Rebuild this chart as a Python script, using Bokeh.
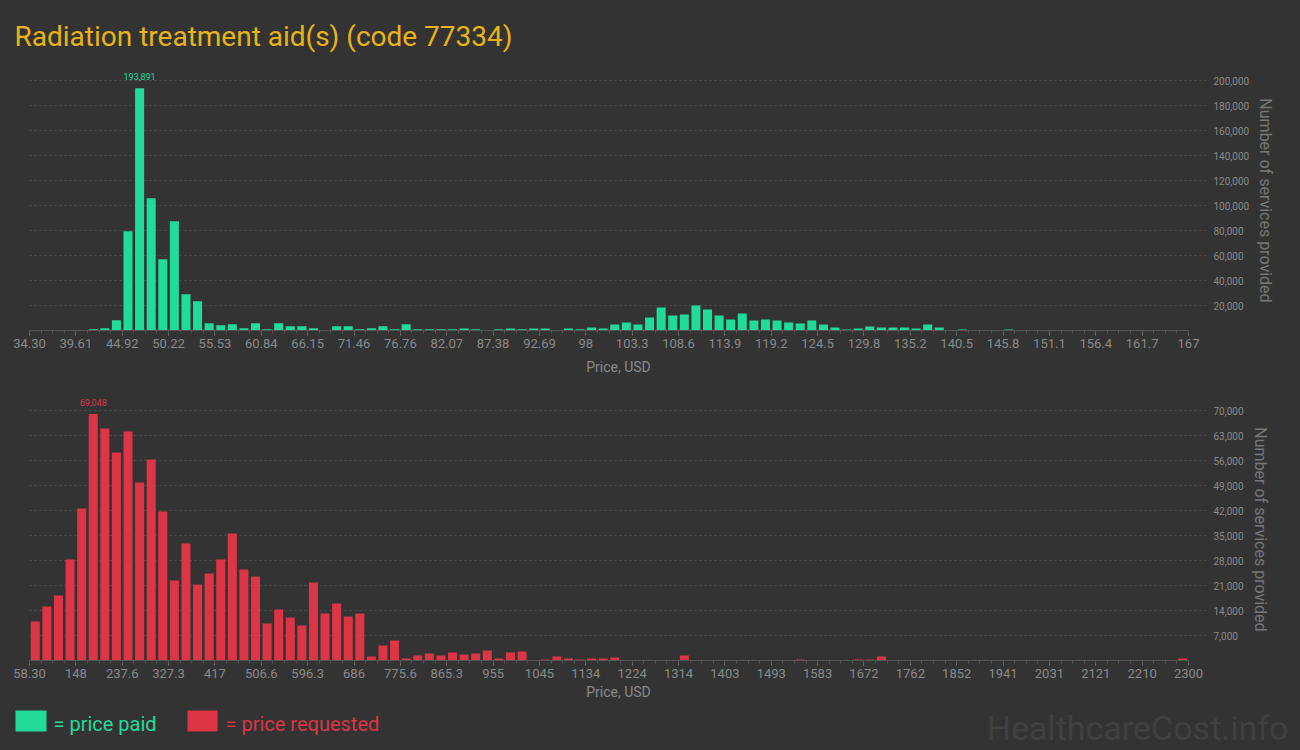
import re
import numpy as np
from bokeh.plotting import figure
from bokeh.layouts import column
from bokeh.models import (ColumnDataSource, FixedTicker, Label,
                          NumeralTickFormatter, Range1d)
from bokeh.core.properties import value
from bokeh.embed import file_html
from bokeh.resources import INLINE

# ---------------- data ----------------
title_text = "Radiation treatment aid(s) (code 77334)"

paid_lo, paid_hi = 34.30, 167.05
paid_counts = [
    300, 0, 0, 0, 0, 1000, 1900, 8300, 79500, 193891,
    105900, 57100, 87500, 29100, 23500, 5900, 4300, 5100, 1900, 5900,
    1100, 5900, 3500, 3500, 1900, 300, 3500, 3500, 1100, 1900,
    3500, 1100, 5100, 1100, 1000, 1000, 1000, 1600, 1000, 400,
    1000, 1600, 1000, 1600, 1600, 300, 1600, 1000, 2400, 1600,
    4800, 6400, 4800, 10400, 18400, 12000, 12800, 20000, 16800, 12000,
    8800, 13600, 8000, 8800, 8000, 6400, 5600, 8000, 4800, 2400,
    800, 1600, 3200, 2400, 2400, 2400, 1600, 4800, 2400, 0,
    800, 300, 300, 0, 800, 300, 300, 300, 0, 0,
    0, 0, 0, 0, 0, 0, 0, 0, 0, 300,
]
paid_tick_labels = ["34.30", "39.61", "44.92", "50.22", "55.53", "60.84", "66.15",
                    "71.46", "76.76", "82.07", "87.38", "92.69", "98", "103.3",
                    "108.6", "113.9", "119.2", "124.5", "129.8", "135.2", "140.5",
                    "145.8", "151.1", "156.4", "161.7", "167"]
paid_y_ticks = [20000, 40000, 60000, 80000, 100000, 120000, 140000, 160000, 180000, 200000]

req_lo, req_hi = 58.30, 2300.0
req_counts = [
    10920, 15120, 18200, 28280, 42560, 69048, 64960, 58240, 64120, 49840,
    56280, 41720, 22400, 32760, 21280, 24360, 28280, 35560, 25480, 23520,
    10360, 14280, 12040, 9800, 21840, 13160, 15960, 12320, 13160, 1120,
    4200, 5600, 560, 1400, 1960, 1400, 2240, 1680, 1960, 2800,
    560, 2240, 2520, 150, 280, 1120, 560, 280, 560, 560,
    840, 150, 150, 150, 150, 0, 1400, 0, 0, 0,
    0, 0, 150, 0, 150, 150, 280, 150, 150, 150,
    0, 280, 280, 1120, 0, 0, 0, 0, 0, 0,
    0, 0, 0, 0, 0, 0, 0, 0, 0, 0,
    0, 0, 0, 0, 0, 0, 0, 0, 0, 560,
]
req_tick_labels = ["58.30", "148", "237.6", "327.3", "417", "506.6", "596.3", "686",
                   "775.6", "865.3", "955", "1045", "1134", "1224", "1314", "1403",
                   "1493", "1583", "1672", "1762", "1852", "1941", "2031", "2121",
                   "2210", "2300"]
req_y_ticks = [7000, 14000, 21000, 28000, 35000, 42000, 49000, 56000, 63000, 70000]

legend_labels = ["= price paid", "= price requested"]
axis_x_label = "Price, USD"
axis_y_label = "Number of services provided"
watermark = "HealthcareCost.info"

# ---------------- style ----------------
BG = "#333333"
GREEN = "#21DB9B"
RED = "#DC3545"
GOLD = "#E9B318"
TICK = "#8a8a8a"
GRID = "#505050"
FONT = "Roboto"
BGSTYLE = {"background-color": BG}

W = 1300
FRAME_L = 29
FRAME_W = 1178
DATA_W = 1159


def make_hist(counts, lo, hi, tick_labels, y_ticks, color, y_end,
              frame_h, b_top, b_bot, xlab_standoff):
    n = len(counts)
    edges = np.linspace(lo, hi, n + 1)
    centers = (edges[:-1] + edges[1:]) / 2
    bw = edges[1] - edges[0]
    x_end = lo + (hi - lo) * FRAME_W / DATA_W
    p = figure(width=W, height=b_top + frame_h + b_bot, title=None,
               x_range=Range1d(lo, x_end), y_range=Range1d(0, y_end),
               output_backend="svg", toolbar_location=None,
               min_border_left=FRAME_L, min_border_right=W - FRAME_L - FRAME_W,
               min_border_top=b_top, min_border_bottom=b_bot,
               frame_width=FRAME_W, frame_height=frame_h,
               background_fill_color=BG, border_fill_color=BG,
               outline_line_color=None, y_axis_location="right",
               styles=BGSTYLE)
    src = ColumnDataSource(dict(x=centers, top=counts))
    p.vbar(x="x", top="top", width=bw * 0.78, source=src,
           fill_color=color, line_color=None)

    # x axis
    major = list(edges[::4])
    xa = p.xaxis[0]
    xa.ticker = FixedTicker(ticks=major, minor_ticks=list(edges))
    xa.major_label_overrides = {float(t): lab for t, lab in zip(major, tick_labels)}
    xa.bounds = (lo, hi)
    xa.axis_line_color = "#555555"
    xa.major_tick_line_color = "#777777"
    xa.minor_tick_line_color = "#555555"
    xa.major_tick_in = 0
    xa.major_tick_out = 5
    xa.minor_tick_in = 0
    xa.minor_tick_out = 3
    xa.major_label_text_color = TICK
    xa.major_label_text_font = FONT
    xa.major_label_text_font_size = "13px"
    xa.major_label_text_align = "left"
    xa.major_label_standoff = 3
    xa.axis_label = axis_x_label
    xa.axis_label_text_color = TICK
    xa.axis_label_text_font = FONT
    xa.axis_label_text_font_size = "14px"
    xa.axis_label_text_font_style = "normal"
    xa.axis_label_standoff = xlab_standoff

    # y axis (right)
    ya = p.yaxis[0]
    ya.ticker = FixedTicker(ticks=y_ticks)
    ya.formatter = NumeralTickFormatter(format="0,0")
    ya.axis_line_color = None
    ya.major_tick_line_color = None
    ya.minor_tick_line_color = None
    ya.major_label_text_color = TICK
    ya.major_label_text_font = FONT
    ya.major_label_text_font_size = "10px"
    ya.major_label_standoff = 0
    ya.axis_label = axis_y_label
    ya.axis_label_text_color = "#777777"
    ya.axis_label_text_font = FONT
    ya.axis_label_text_font_size = "16px"
    ya.axis_label_text_font_style = "normal"
    ya.axis_label_standoff = 4

    p.xgrid.grid_line_color = None
    p.ygrid.grid_line_color = GRID
    p.ygrid.grid_line_dash = "2 3"
    p.ygrid.ticker = FixedTicker(ticks=y_ticks)

    # peak label
    k = int(np.argmax(counts))
    lsrc = ColumnDataSource(dict(x=[centers[k]], y=[counts[k]],
                                 t=["{:,}".format(counts[k])]))
    p.text(x="x", y="y", text="t", source=lsrc, text_color=color,
           text_font=value(FONT), text_font_size="9px",
           text_align="center", text_baseline="bottom", y_offset=-8)
    return p


def blank(h):
    f = figure(width=W, height=h, title=None,
               x_range=Range1d(0, W), y_range=Range1d(0, h),
               output_backend="svg", toolbar_location=None,
               x_axis_location=None, y_axis_location=None,
               min_border=0, frame_width=W, frame_height=h,
               background_fill_color=BG, border_fill_color=BG,
               outline_line_color=None, styles=BGSTYLE)
    f.grid.grid_line_color = None
    return f


# title strip
ft = blank(62)
ft.add_layout(Label(x=14, y=26, text=title_text, text_color=GOLD,
                    text_font=FONT, text_font_size="28px",
                    text_baseline="alphabetic"))

p1 = make_hist(paid_counts, paid_lo, paid_hi, paid_tick_labels, paid_y_ticks,
               GREEN, 208000, 260, 8, 55, 8)
p2 = make_hist(req_counts, req_lo, req_hi, req_tick_labels, req_y_ticks,
               RED, 73360, 262, 13, 44, 3)

# footer strip: legend + watermark
ff = blank(46)
sw = ColumnDataSource(dict(left=[15, 187], right=[46, 217], bottom=[19, 19], top=[40, 40],
                           c=[GREEN, RED]))
ff.quad(left="left", right="right", bottom="bottom", top="top", fill_color="c",
        line_color=None, source=sw)
for txt, col, lx in [(legend_labels[0], GREEN, 53), (legend_labels[1], RED, 225)]:
    ff.add_layout(Label(x=lx, y=27, text=txt, text_color=col, text_font=FONT,
                        text_font_size="20px", text_baseline="alphabetic"))
ff.add_layout(Label(x=1288, y=23, text=watermark, text_color="#404040",
                    text_font=FONT, text_font_size="34px",
                    text_align="right", text_baseline="alphabetic"))

charts = column(p1, p2, spacing=0, styles=BGSTYLE)
html = file_html([ft, charts, ff], INLINE)
html = re.sub(r"<body[^>]*>", '<body style="background-color:#333333;margin:0">', html, count=1)
html = html.replace("</head>", "<style>html,body{background-color:#333333;margin:0}</style></head>", 1)
open("out.html", "w").write(html)
